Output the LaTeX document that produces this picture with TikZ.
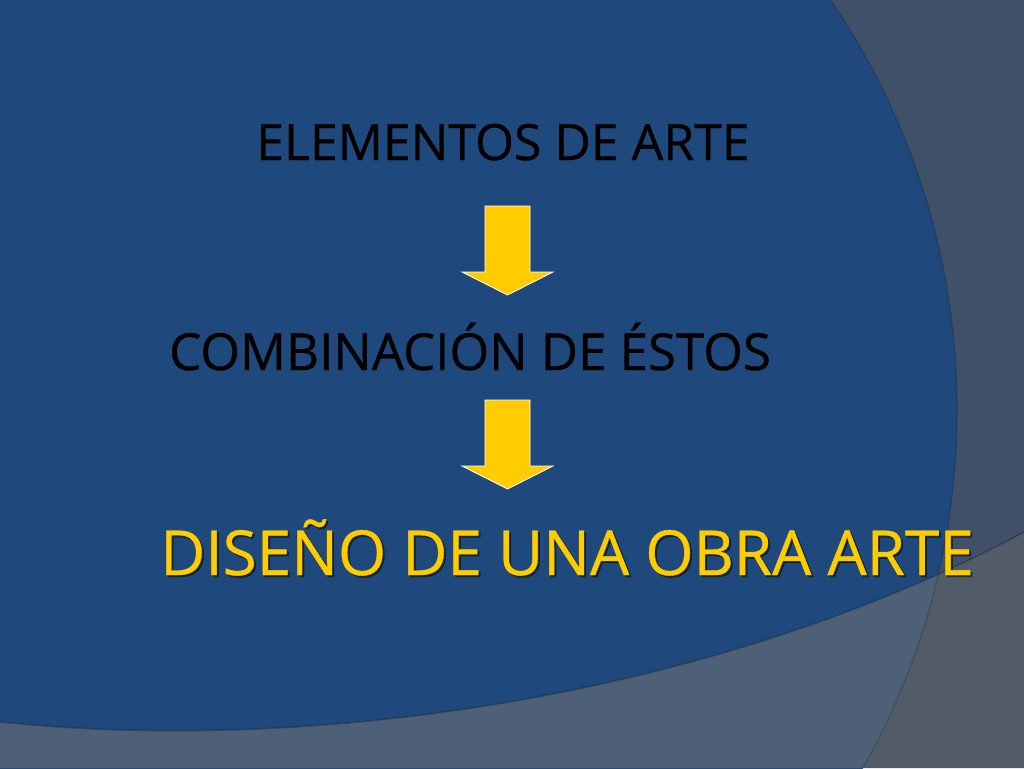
\documentclass[tikz,border=0pt]{standalone}
\usepackage{fontspec}
\setmainfont{Open Sans}
\newfontfamily\slidefont[FakeBold=0.6]{Open Sans}
\usepackage{tikz}
\usetikzlibrary{calc}
\definecolor{slideblue}{HTML}{1F497D}
\definecolor{slidegray}{HTML}{3F5068}
\definecolor{lowgray}{HTML}{4E6078}
\definecolor{cornergray}{HTML}{525C68}
\definecolor{arrowyellow}{HTML}{FFCC00}
\tikzset{
    arrowfill/.style={fill=arrowyellow, draw=white, line width=0.8pt, line join=miter},
    blacktext/.style={text=black, anchor=base, font=\slidefont\fontsize{50}{58}\selectfont, inner sep=0pt},
    yellowtext/.style={text=arrowyellow, anchor=base, font=\slidefont\fontsize{62}{70}\selectfont, inner sep=0pt}
}
\newcommand{\blockarrow}[1]{
    \filldraw[arrowfill] ($(#1)+(-22.5,0)$) -- ++(45,0) -- ++(0,66) -- ++(23,0)
        -- ($(#1)+(0,89)$) -- ($(#1)+(-45.5,66)$) -- ($(#1)+(-22.5,66)$) -- cycle;
}
\begin{document}
\begin{tikzpicture}[x=1pt, y=-1pt]
        \useasboundingbox (0,0) rectangle (1024,768);
        \clip (0,0) rectangle (1024,768);

        % background
        \fill[slidegray] (0,0) rectangle (1024,768);
        \coordinate (ac) at (230,410);
        \fill[slideblue] (ac) circle [radius=727pt];

        % lower band
        \coordinate (b0) at (0,722);
        \coordinate (b1) at (1024,532);
        \fill[cornergray] (b0) .. controls (320,755) and (720,695) .. (b1)
            -- (1024,768) -- (0,768) -- cycle;
        \begin{scope}
            \clip (ac) circle [radius=727pt];
            \fill[lowgray] (b0) .. controls (320,755) and (720,695) .. (b1)
                -- (1024,768) -- (0,768) -- cycle;
        \end{scope}

        % edges
        \draw[black, opacity=0.15, line width=1.5pt] (ac) circle [radius=727pt];
        \draw[black, opacity=0.25, line width=1.5pt] (b0) .. controls (320,755) and (720,695) .. (b1);

        % coordinates
        \coordinate (a1) at (507.5,206);
        \coordinate (a2) at (507.5,400);

        % Text
        \node[blacktext] (elem) at (503,160) {ELEMENTOS DE ARTE};
        \node[blacktext, font=\slidefont\fontsize{51}{59}\selectfont] (comb) at (470,370) {COMBINACIÓN DE ÉSTOS};
        \node[yellowtext, text=black, opacity=0.45] at (569,577) {DISEÑO DE UNA OBRA ARTE};
        \node[yellowtext] (diseno) at (567,575) {DISEÑO DE UNA OBRA ARTE};

        % arrows
        \blockarrow{a1}
        \blockarrow{a2}

    \end{tikzpicture}
\end{document}
